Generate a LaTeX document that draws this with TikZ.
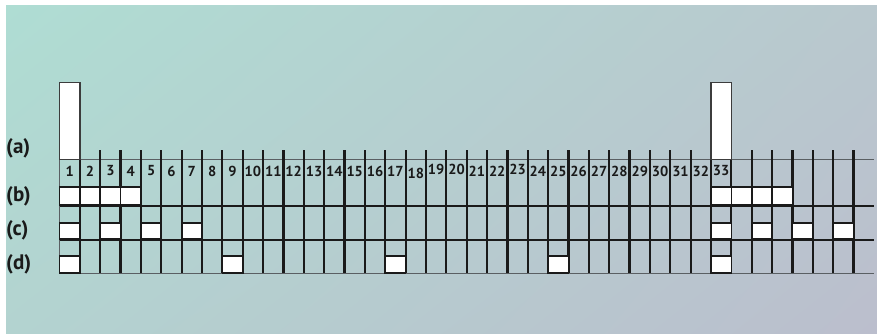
\documentclass[tikz,border=0pt]{standalone}
\usepackage{fontspec}
\newfontfamily\slotfont{PT Sans Bold}
\usetikzlibrary{positioning,shadings}
\definecolor{bgtl}{HTML}{AFDDD3}
\definecolor{bgtr}{HTML}{B9C8CE}
\definecolor{bgbl}{HTML}{B3D3D0}
\definecolor{bgbr}{HTML}{BBBECD}
\definecolor{gridgray}{HTML}{5A5F63}
\definecolor{ink}{HTML}{1A1A1A}

\begin{document}
\begin{tikzpicture}[x=1pt, y=1pt,
  cell/.style={draw=ink, fill=white, line width=1.7pt},
  bar/.style={draw=ink!85, fill=white, line width=1.4pt},
  rule/.style={draw=ink, line width=2.2pt},
  hair/.style={draw=gridgray, line width=1pt},
  num/.style={font=\slotfont\fontsize{14.5}{14.5}\selectfont, text=ink, inner sep=0pt},
  lbl/.style={font=\slotfont\fontsize{21}{21}\selectfont, text=ink, inner sep=0pt, anchor=west}
]
\useasboundingbox (0,0) rectangle (877,333);
\shade[upper left=bgtl, upper right=bgtr, lower left=bgbl, lower right=bgbr] (6,0) rectangle (877,327);

\def\cw{20.36}
\def\xo{59.5}

% grid
\draw[hair] (\xo,173.7) -- (874,173.7);
\draw[hair] (\xo,59.7) -- (874,59.7);
\draw[hair] (\xo,173.7) -- (\xo,59.7);
\draw[rule] (\xo,127) -- (874,127);
\draw[rule] (\xo,93) -- (874,93);
\foreach \i in {1,...,39}
  \draw[rule] ({\xo+\i*\cw},183) -- ({\xo+\i*\cw},59.7);

% (a) pulses
\foreach \c in {1,33}
  \draw[bar] ({\xo+(\c-1)*\cw},173.7) rectangle ({\xo+\c*\cw},250.3);
% (b)
\foreach \c in {1,2,3,4,33,34,35,36}
  \draw[cell] ({\xo+(\c-1)*\cw},128) rectangle ({\xo+\c*\cw},146.3);
% (c)
\foreach \c in {1,3,5,7,33,35,37,39}
  \draw[cell] ({\xo+(\c-1)*\cw},93.7) rectangle ({\xo+\c*\cw},110.3);
% (d)
\foreach \c in {1,9,17,25,33}
  \draw[cell] ({\xo+(\c-1)*\cw},60.3) rectangle ({\xo+\c*\cw},77);

% slot numbers
\foreach \i in {1,...,33} {
  \pgfmathsetmacro{\dy}{(\i==18)*(-2)+(\i==19 || \i==20 || \i==23)*1.5}
  \node[num] (n\i) at ({\xo+(\i-0.5)*\cw},{162+\dy}) {\i};
}

% row labels
\node[lbl] (rowa) at (6,185) {(a)};
\node[lbl] (rowb) at (6,137) {(b)};
\node[lbl] (rowc) at (6,103) {(c)};
\node[lbl] (rowd) at (6,69) {(d)};
\end{tikzpicture}
\end{document}
